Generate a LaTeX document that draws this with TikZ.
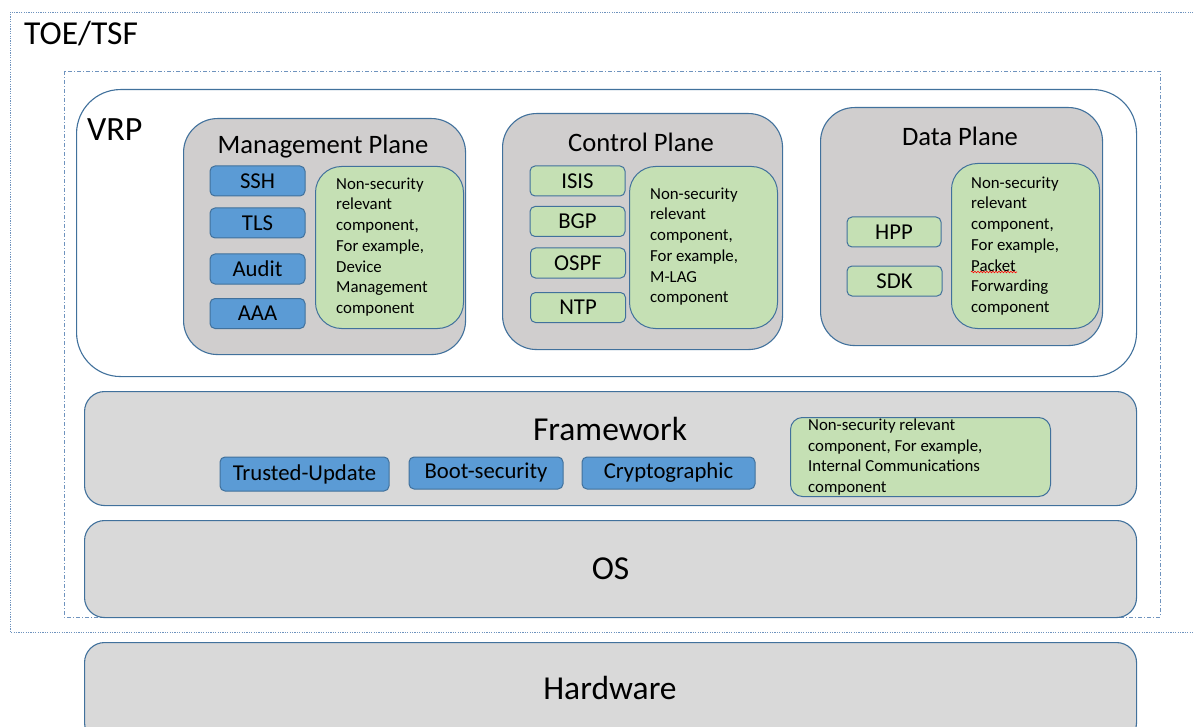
\documentclass[tikz,border=0pt]{standalone}
\usepackage{fontspec}
\setmainfont{Carlito}
\usetikzlibrary{decorations.pathmorphing}
\definecolor{edgeblue}{HTML}{41719C}
\definecolor{boxblue}{HTML}{5B9BD5}
\definecolor{boxgreen}{HTML}{C5E0B4}
\definecolor{planegray}{HTML}{D0CECE}
\definecolor{layergray}{HTML}{D9D9D9}
\definecolor{lineblue}{HTML}{6F93BE}
\tikzset{
  layer/.style={draw=edgeblue, fill=layergray, line width=1.1, rounded corners=20,
    inner sep=0pt, anchor=north west, font=\fontsize{33.5}{36}\selectfont},
  plane/.style={draw=edgeblue, fill=planegray, line width=1.1, rounded corners=34,
    inner sep=0pt, anchor=north west},
  title/.style={inner sep=0pt, font=\fontsize{26.6}{30}\selectfont},
  secbox/.style={draw=edgeblue, fill=boxblue, line width=1, rounded corners=5,
    inner sep=0pt, minimum height=30, font=\fontsize{22.7}{24}\selectfont},
  compbox/.style={draw=edgeblue, fill=boxgreen, line width=1, rounded corners=5,
    inner sep=0pt, minimum width=95, minimum height=30, font=\fontsize{22.7}{24}\selectfont},
  otherbox/.style={draw=edgeblue, fill=boxgreen, line width=1, rounded corners=26,
    inner sep=0pt, anchor=north west},
  othertext/.style={inner sep=0pt, anchor=north west, align=left,
    font=\fontsize{16.8}{20.7}\selectfont}
}
\begin{document}
\begin{tikzpicture}[x=1pt,y=-1pt]
\useasboundingbox (0,0) rectangle (1193,727);
\clip (0,0) rectangle (1193,727);
% TOE/TSF boundary
\draw[lineblue, line width=0.8, dash pattern=on 1.2pt off 1.2pt] (1196,12) -- (10,12) -- (10,632) -- (1196,632);
\node (toe) [inner sep=0pt, anchor=north west, font=\fontsize{33.5}{36}\selectfont] at (24,21) {TOE/TSF};
\draw[lineblue, line width=0.8, dash pattern=on 4pt off 2pt on 1pt off 2pt] (64,71) rectangle (1160,617);
% VRP
\node (vrp) [draw=edgeblue, fill=white, line width=1.1, rounded corners=44, inner sep=0pt,
  anchor=north west, minimum width=1060, minimum height=287] at (76,89) {};
\node (vrplabel) [inner sep=0pt, anchor=north west, font=\fontsize{34}{36}\selectfont] at (87,118) {VRP};
% management plane
\node (mgmt) [plane, minimum width=282, minimum height=236] at (183,118) {};
\node (mgmttitle) [title] at (323,147) {Management Plane};
\node (ssh) [secbox, minimum width=95] at (257.5,181) {SSH};
\node (tls) [secbox, minimum width=95] at (257.5,223) {TLS};
\node (audit) [secbox, minimum width=95] at (257.5,269) {Audit};
\node (aaa) [secbox, minimum width=95] at (257.5,313.5) {AAA};
\node (mgmtother) [otherbox, minimum width=148, minimum height=162] at (315,166) {};
\node (mgmttext) [othertext] at (336,177.5) {Non-security\\relevant\\component,\\For example,\\Device\\Management\\component};
% control plane
\node (ctrl) [plane, minimum width=280, minimum height=236] at (502,113) {};
\node (ctrltitle) [title] at (641,142) {Control Plane};
\node (isis) [compbox] at (577.5,181) {ISIS};
\node (bgp) [compbox] at (577.5,221.5) {BGP};
\node (ospf) [compbox] at (578,263) {OSPF};
\node (ntp) [compbox] at (578,307.5) {NTP};
\node (ctrlother) [otherbox, minimum width=148, minimum height=162] at (629,166) {};
\node (ctrltext) [othertext] at (650,187.5) {Non-security\\relevant\\component,\\For example,\\M-LAG\\component};
% data plane
\node (data) [plane, minimum width=282, minimum height=238] at (820,107) {};
\node (datatitle) [title] at (960,136) {Data Plane};
\node (hpp) [compbox, minimum width=94] at (894,232) {HPP};
\node (sdk) [compbox] at (894.5,281) {SDK};
\node (dataother) [otherbox, minimum width=148, minimum height=165] at (951,163) {};
\node (datatext) [othertext] at (971,176.5) {Non-security\\relevant\\component,\\For example,\\Packet\\Forwarding\\component};
\draw[red, line width=0.6, decorate, decoration={snake, amplitude=0.8pt, segment length=3pt}] (971,272) -- (1017,272);
% framework
\node (frame) [layer, minimum width=1052, minimum height=114] at (84,391) {};
\node (frametitle) [inner sep=0pt, font=\fontsize{33.5}{36}\selectfont] at (610,429) {Framework};
\node (update) [secbox, minimum width=169, minimum height=34] at (304.5,474) {Trusted-Update};
\node (boot) [secbox, minimum width=154, minimum height=32] at (486,473) {Boot-security};
\node (crypto) [secbox, minimum width=173, minimum height=32] at (668.5,473) {Cryptographic};
\node (frameother) [otherbox, rounded corners=12, minimum width=260, minimum height=79] at (790,417) {};
\node (frametext) [othertext] at (808,418.5) {Non-security relevant\\component, For example,\\Internal Communications\\component};
% OS and hardware
\node (os) [layer, minimum width=1052, minimum height=97] at (84,520) {OS};
\node (hw) [layer, minimum width=1052, minimum height=100] at (84,642) {};
\node (hwlabel) [inner sep=0pt, font=\fontsize{33.5}{36}\selectfont] at (610,688) {Hardware};
\end{tikzpicture}
\end{document}
